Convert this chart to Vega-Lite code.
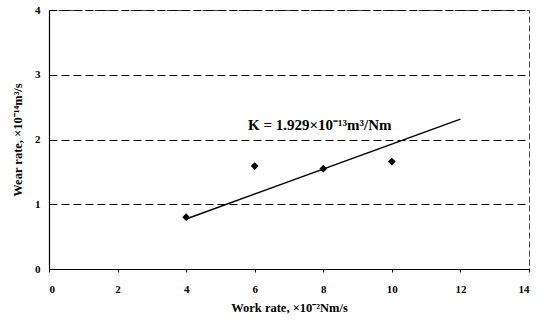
{
  "$schema": "https://vega.github.io/schema/vega-lite/v6.json",
  "autosize": "none",
  "width": 480,
  "height": 259,
  "padding": {"left": 49, "top": 10, "right": 20, "bottom": 55},
  "background": "white",
  "config": {
    "view": {"stroke": "#444", "strokeWidth": 1, "strokeDash": [6, 3]},
    "font": "Liberation Serif",
    "axis": {
      "labelFont": "Liberation Serif",
      "labelFontWeight": "bold",
      "labelFontSize": 11,
      "labelColor": "black",
      "titleFont": "Liberation Serif",
      "titleFontWeight": "bold",
      "titleFontSize": 12.5,
      "titleColor": "black",
      "domainColor": "black",
      "domainWidth": 1.2
    }
  },
  "datasets": {
    "pts": [
      {"work": 4, "wear": 0.8},
      {"work": 6, "wear": 1.59},
      {"work": 8, "wear": 1.55},
      {"work": 10, "wear": 1.66}
    ],
    "fit": [
      {"work": 4, "wear": 0.772},
      {"work": 12, "wear": 2.315}
    ],
    "note": [
      {"work": 7.9, "wear": 2.22, "label": "K = 1.929×10⁻¹³m³/Nm"}
    ]
  },
  "layer": [
    {
      "data": {"name": "pts"},
      "mark": {"type": "point", "shape": "diamond", "filled": true, "color": "black", "size": 60, "opacity": 1},
      "encoding": {
        "x": {
          "field": "work", "type": "quantitative",
          "scale": {"domain": [0, 14], "nice": false},
          "axis": {"values": [0, 2, 4, 6, 8, 10, 12, 14], "format": "d", "title": "Work rate, ×10⁻²Nm/s", "grid": false, "ticks": true, "tickSize": 3, "tickColor": "black", "labelPadding": 11, "titlePadding": 7}
        },
        "y": {
          "field": "wear", "type": "quantitative",
          "scale": {"domain": [0, 4], "nice": false},
          "axis": {"values": [0, 1, 2, 3, 4], "format": "d", "title": "Wear rate, ×10⁻¹⁴m³/s", "grid": true, "gridColor": "black", "gridDash": [8, 4], "gridWidth": 1, "ticks": false, "labelPadding": 9, "titlePadding": 10}
        }
      }
    },
    {
      "data": {"name": "fit"},
      "mark": {"type": "line", "color": "black", "strokeWidth": 1.5},
      "encoding": {
        "x": {"field": "work", "type": "quantitative"},
        "y": {"field": "wear", "type": "quantitative"}
      }
    },
    {
      "data": {"name": "note"},
      "mark": {"type": "text", "font": "Liberation Serif", "fontWeight": "bold", "fontSize": 15, "color": "black", "align": "center", "baseline": "middle"},
      "encoding": {
        "x": {"field": "work", "type": "quantitative"},
        "y": {"field": "wear", "type": "quantitative"},
        "text": {"field": "label"}
      }
    }
  ]
}
